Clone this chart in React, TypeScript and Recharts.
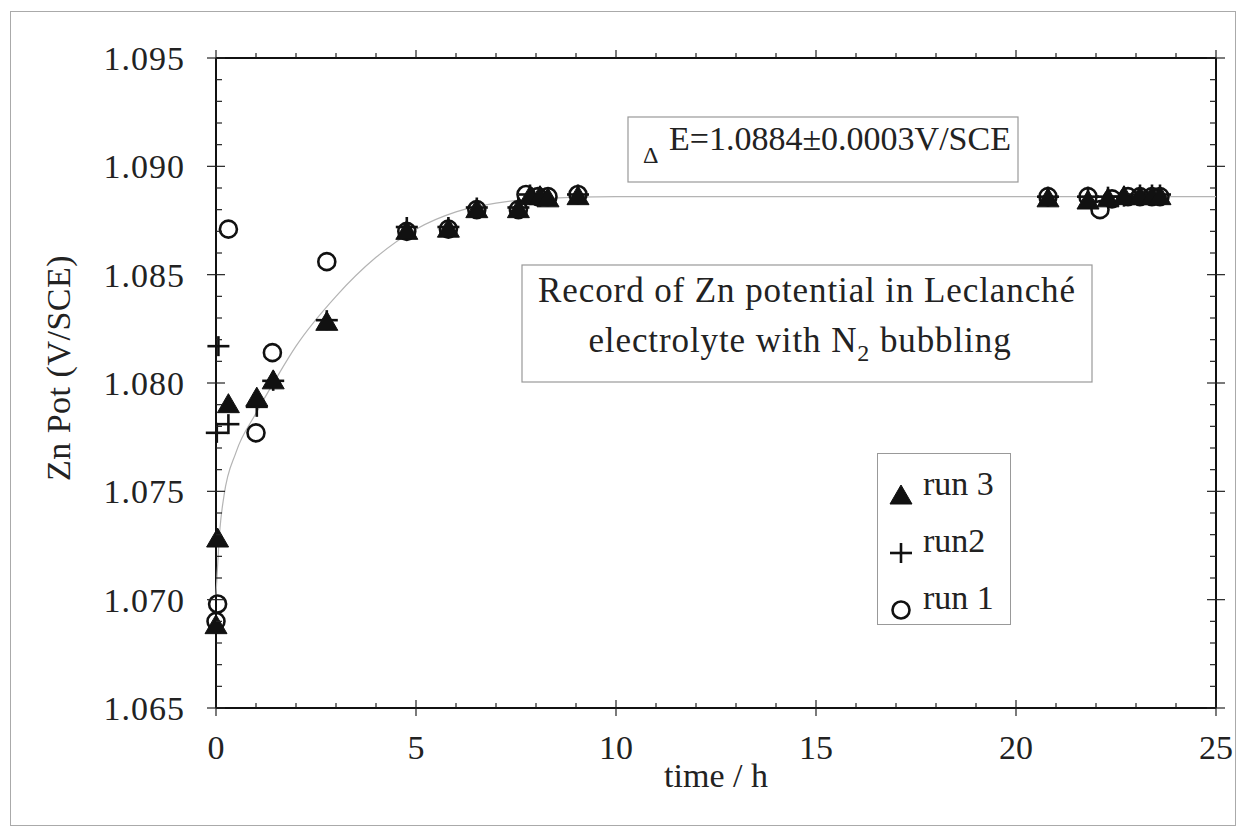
import React from 'react';
import { ScatterChart, Scatter, XAxis, YAxis, Legend } from 'recharts';

// ---- data ----
const run1T = [0, 0.04, 0.31, 1.0, 1.41, 2.77, 4.77, 5.81, 6.52, 7.56, 7.75, 8.05, 8.3, 9.05, 20.8, 21.8, 22.1, 22.4, 22.8, 23.1, 23.4, 23.6];
const run1E = [1.0690, 1.0698, 1.0871, 1.0777, 1.0814, 1.0856, 1.0870, 1.0871, 1.0880, 1.0880, 1.0887, 1.0886, 1.0886, 1.0887, 1.0886, 1.0886, 1.0880, 1.0885, 1.0886, 1.0886, 1.0886, 1.0886];

const run2T = [0.02, 0.06, 0.31, 1.02, 1.43, 2.77, 4.77, 5.81, 6.52, 7.56, 7.85, 8.1, 9.05, 20.8, 21.8, 22.3, 22.7, 23.1, 23.4, 23.6];
const run2E = [1.0777, 1.0817, 1.0781, 1.0789, 1.0801, 1.0829, 1.0872, 1.0872, 1.0881, 1.0881, 1.0887, 1.0886, 1.0887, 1.0886, 1.0886, 1.0886, 1.0886, 1.0887, 1.0887, 1.0887];

const run3T = [0, 0.04, 0.31, 1.02, 1.43, 2.77, 4.77, 5.81, 6.52, 7.56, 7.85, 8.1, 8.3, 9.05, 20.8, 21.8, 22.3, 22.7, 23.1, 23.4, 23.6];
const run3E = [1.0688, 1.0728, 1.0790, 1.0793, 1.0801, 1.0828, 1.0870, 1.0871, 1.0880, 1.0880, 1.0886, 1.0886, 1.0885, 1.0886, 1.0885, 1.0884, 1.0885, 1.0886, 1.0886, 1.0886, 1.0886];

// fitted curve (grey line)
const fitT = [0, 0.1, 0.2, 0.5, 1, 1.5, 2, 3, 4, 5, 6, 7, 8, 10, 15, 20, 25];
const fitE = [1.0702, 1.0733, 1.0748, 1.0768, 1.0786, 1.0802, 1.0817, 1.0840, 1.0858, 1.0871, 1.0879, 1.0883, 1.0885, 1.0886, 1.0886, 1.0886, 1.0886];

const X_TICKS = [0, 1, 2, 3, 4, 5, 6, 7, 8, 9, 10, 11, 12, 13, 14, 15, 16, 17, 18, 19, 20, 21, 22, 23, 24, 25];
const X_MAJOR = [0, 5, 10, 15, 20, 25];
const Y_TICKS = [1.065, 1.066, 1.067, 1.068, 1.069, 1.070, 1.071, 1.072, 1.073, 1.074, 1.075, 1.076, 1.077, 1.078, 1.079, 1.080,
  1.081, 1.082, 1.083, 1.084, 1.085, 1.086, 1.087, 1.088, 1.089, 1.090, 1.091, 1.092, 1.093, 1.094, 1.095];
const Y_MAJOR = ['1.065', '1.070', '1.075', '1.080', '1.085', '1.090', '1.095'];

const LEGEND_LABELS = ['run 3', 'run2', 'run 1'];

const zip = (ts: number[], es: number[]) => ts.map((t, i) => ({ t, E: es[i] }));
const run1 = zip(run1T, run1E);
const run2 = zip(run2T, run2E);
const run3 = zip(run3T, run3E);
const fit = zip(fitT, fitE);

// ---- styling ----
const FONT = '"Liberation Serif", "Times New Roman", serif';
const FS = 34;
const X_TM = 39;
const Y_TM = 31;
const SIDE_TM = 4;

const Triangle = ({ cx, cy }: any) => (
  <polygon points={`${cx},${cy - 11} ${cx + 11},${cy + 8} ${cx - 11},${cy + 8}`} fill="#111" stroke="#111" strokeWidth={1} />
);
const Plus = ({ cx, cy }: any) => (
  <g stroke="#111" strokeWidth={2.6}>
    <line x1={cx - 11} x2={cx + 11} y1={cy} y2={cy} />
    <line x1={cx} x2={cx} y1={cy - 10} y2={cy + 10} />
  </g>
);
const Circle = ({ cx, cy }: any) => (
  <circle cx={cx} cy={cy} r={8.5} fill="none" stroke="#111" strokeWidth={2.6} />
);
const Nothing = () => <g />;

const isMajorX = (v: number) => X_MAJOR.includes(v);
const isMajorY = (v: number) => Y_MAJOR.includes(v.toFixed(3));

const BottomTick = (props: any) => {
  const { x, y, payload } = props;
  const ay = y - X_TM;
  const major = isMajorX(payload.value);
  return (
    <g>
      {major ? (
        <line x1={x} x2={x} y1={ay - 8} y2={ay + 8} stroke="#222" strokeWidth={1.2} />
      ) : (
        <line x1={x} x2={x} y1={ay} y2={ay - 5} stroke="#222" strokeWidth={1.2} />
      )}
      {major && (
        <text x={x} y={y} dy="0.35em" textAnchor="middle" fontFamily={FONT} fontSize={FS} fill="#222">
          {payload.value}
        </text>
      )}
    </g>
  );
};
const TopTick = (props: any) => {
  const { x, y, payload } = props;
  const ay = y + SIDE_TM;
  const major = isMajorX(payload.value);
  return <line x1={x} x2={x} y1={ay} y2={ay - (major ? 8 : 5)} stroke="#222" strokeWidth={1.2} />;
};
const LeftTick = (props: any) => {
  const { x, y, payload } = props;
  const ax = x + Y_TM;
  const major = isMajorY(payload.value);
  return (
    <g>
      {major ? (
        <line x1={ax - 9} x2={ax + 9} y1={y} y2={y} stroke="#222" strokeWidth={1.2} />
      ) : (
        <line x1={ax} x2={ax + 6} y1={y} y2={y} stroke="#222" strokeWidth={1.2} />
      )}
      {major && (
        <text x={x} y={y} dy="0.35em" textAnchor="end" fontFamily={FONT} fontSize={FS} fill="#222" letterSpacing={1}>
          {payload.value.toFixed(3)}
        </text>
      )}
    </g>
  );
};
const RightTick = (props: any) => {
  const { x, y, payload } = props;
  const ax = x - SIDE_TM;
  const major = isMajorY(payload.value);
  return major ? (
    <line x1={ax - 9} x2={ax + 9} y1={y} y2={y} stroke="#222" strokeWidth={1.2} />
  ) : (
    <line x1={ax} x2={ax - 6} y1={y} y2={y} stroke="#222" strokeWidth={1.2} />
  );
};

const markers = [Triangle, Plus, Circle];
const renderLegend = () => (
  <div style={{ width: 134, height: 172, border: '1.5px solid #999', boxSizing: 'border-box', background: '#fff', position: 'relative', fontFamily: FONT }}>
    {LEGEND_LABELS.map((label, i) => {
      const M = markers[i];
      return (
        <div key={label} style={{ position: 'absolute', left: 0, top: 12 + i * 57, width: 130, height: 50 }}>
          <svg width={46} height={50} style={{ position: 'absolute', left: 0, top: 0 }}>
            <M cx={23} cy={30} />
          </svg>
          <span style={{ position: 'absolute', left: 45, top: -2, fontSize: FS, color: '#222', lineHeight: '40px', whiteSpace: 'pre' }}>{label}</span>
        </div>
      );
    })}
  </div>
);

export default function App() {
  return (
    <div style={{ position: 'absolute', left: 0, top: 0, width: 1242, height: 831, background: '#fff', overflow: 'hidden' }}>
      <div style={{ position: 'absolute', left: 10, top: 11, width: 1226, height: 815, border: '1px solid #aaa', boxSizing: 'border-box' }} />
      <div style={{ position: 'absolute', left: 0, top: 0 }}>
        <ScatterChart width={1242} height={831} margin={{ top: 48, right: 16, bottom: 93, left: 156 }}>
          <XAxis xAxisId="b" type="number" dataKey="t" domain={[0, 25]} ticks={X_TICKS} interval={0} height={30}
            tickSize={0} tickMargin={X_TM} tickLine={false} tick={<BottomTick />} axisLine={{ stroke: '#111', strokeWidth: 2 }} />
          <XAxis xAxisId="top" orientation="top" type="number" dataKey="t" domain={[0, 25]} ticks={X_TICKS} interval={0} height={10}
            tickSize={0} tickMargin={SIDE_TM} tickLine={false} tick={<TopTick />} axisLine={{ stroke: '#111', strokeWidth: 2 }} />
          <YAxis yAxisId="l" type="number" dataKey="E" domain={[1.065, 1.095]} ticks={Y_TICKS} interval={0} width={60}
            tickSize={0} tickMargin={Y_TM} tickLine={false} tick={<LeftTick />} axisLine={{ stroke: '#111', strokeWidth: 2 }} />
          <YAxis yAxisId="r" orientation="right" type="number" dataKey="E" domain={[1.065, 1.095]} ticks={Y_TICKS} interval={0} width={10}
            tickSize={0} tickMargin={SIDE_TM} tickLine={false} tick={<RightTick />} axisLine={{ stroke: '#111', strokeWidth: 2 }} />
          <Scatter name="fit" data={fit} xAxisId="b" yAxisId="l" dataKey="E" shape={<Nothing />} line={{ stroke: '#b4b4b4', strokeWidth: 1.2 }}
            lineJointType="monotoneX" isAnimationActive={false} legendType="none" />
          <Scatter name="fit-r" data={fit} xAxisId="top" yAxisId="r" dataKey="E" shape={<Nothing />} isAnimationActive={false} legendType="none" />
          <Scatter name="run 1" data={run1} xAxisId="b" yAxisId="l" dataKey="E" shape={<Circle />} isAnimationActive={false} />
          <Scatter name="run2" data={run2} xAxisId="b" yAxisId="l" dataKey="E" shape={<Plus />} isAnimationActive={false} />
          <Scatter name="run 3" data={run3} xAxisId="b" yAxisId="l" dataKey="E" shape={<Triangle />} isAnimationActive={false} />
          <Legend layout="horizontal" verticalAlign="middle" align="center" content={renderLegend}
            wrapperStyle={{ left: 877, top: 453, width: 134, height: 172 }} />
        </ScatterChart>
      </div>
      <svg width={1242} height={831} style={{ position: 'absolute', left: 0, top: 0, pointerEvents: 'none' }} fontFamily={FONT} fill="#222">
        <text transform="translate(58,368) rotate(-90)" textAnchor="middle" dy="0.35em" fontSize={FS} letterSpacing={0.5}>Zn Pot (V/SCE)</text>
        <text x={716} y={775} textAnchor="middle" dy="0.35em" fontSize={FS}>time / h</text>
        <rect x={628} y={117} width={390} height={65} fill="#fff" stroke="#999" strokeWidth={1.2} />
        <text x={643} y={163} fontSize={24}>Δ</text>
        <text x={669} y={150} fontSize={FS}>E=1.0884±0.0003V/SCE</text>
        <rect x={522} y={265} width={570} height={117} fill="#fff" stroke="#999" strokeWidth={1.2} />
        <text x={807} y={302} textAnchor="middle" fontSize={35} letterSpacing={0.9}>Record of Zn potential in Leclanché</text>
        <text x={800} y={352} textAnchor="middle" fontSize={35} letterSpacing={0.9}>
          electrolyte with N<tspan fontSize={24} dy={9}>2</tspan><tspan dy={-9}> bubbling</tspan>
        </text>
      </svg>
    </div>
  );
}
